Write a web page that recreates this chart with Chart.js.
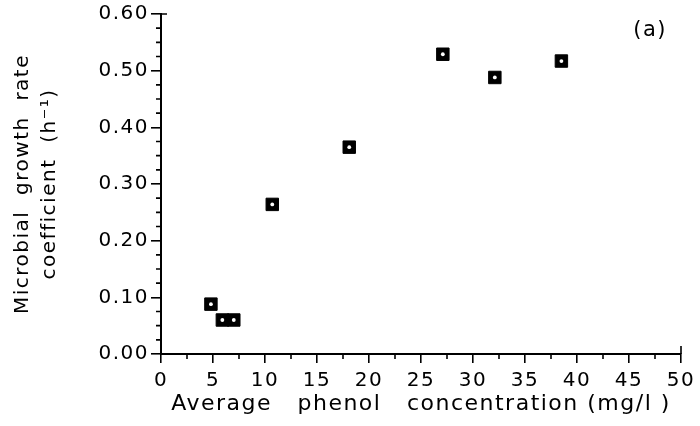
<!DOCTYPE html>
<html>
<head>
<meta charset="utf-8">
<script src="https://cdn.jsdelivr.net/npm/chart.js@4"></script>
<style>
  body { margin: 0; background: #fff; }
  #wrap { width: 700px; height: 426px; }
</style>
</head>
<body>
<div id="wrap"><canvas id="growthChart"></canvas></div>
<script>
// phenol concentration (mg/l) vs growth rate coefficient (1/h)
const phenolConc = [4.8, 5.9, 7.0, 10.7, 18.1, 27.1, 32.1, 38.5];
const growthRate = [0.088, 0.060, 0.060, 0.264, 0.365, 0.529, 0.488, 0.517];

const xTicks = [0, 5, 10, 15, 20, 25, 30, 35, 40, 45, 50];
const yTicks = [0.0, 0.1, 0.2, 0.3, 0.4, 0.5, 0.6];
const xMinorStep = 2.5;
const yMinorStep = 0.025;

const points = phenolConc.map((x, i) => ({ x: x, y: growthRate[i] }));
const FONT = "'DejaVu Sans', sans-serif";
const SPACING = '1.5px';

// the original lettering is wider than any installed font
const spacingPlugin = {
    id: 'spacing',
    beforeLayout(chart) { chart.ctx.letterSpacing = SPACING; },
    beforeDraw(chart) { chart.ctx.letterSpacing = SPACING; }
};

// minor ticks, axis end caps and the panel letter
const extrasPlugin = {
    id: 'extras',
    afterDraw(chart) {
        const ctx = chart.ctx;
        const xs = chart.scales.x, ys = chart.scales.y;
        const area = chart.chartArea;
        ctx.save();
        ctx.strokeStyle = '#000';
        ctx.lineWidth = 1.6;
        ctx.beginPath();
        for (let v = yTicks[0]; v < yTicks[yTicks.length - 1]; v += yMinorStep) {
            if (Math.abs(v / 0.1 - Math.round(v / 0.1)) < 1e-6) continue;
            const py = ys.getPixelForValue(v);
            ctx.moveTo(area.left - 5, py);
            ctx.lineTo(area.left, py);
        }
        for (let v = xTicks[0]; v < xTicks[xTicks.length - 1]; v += xMinorStep) {
            if (v % 5 === 0) continue;
            const px = xs.getPixelForValue(v);
            ctx.moveTo(px, area.bottom);
            ctx.lineTo(px, area.bottom + 5);
        }
        // end caps
        const topY = ys.getPixelForValue(yTicks[yTicks.length - 1]);
        ctx.moveTo(area.left, topY);
        ctx.lineTo(area.left + 6, topY);
        const rightX = xs.getPixelForValue(xTicks[xTicks.length - 1]);
        ctx.moveTo(rightX, area.bottom);
        ctx.lineTo(rightX, area.bottom - 8);
        ctx.stroke();

        ctx.fillStyle = '#000';
        ctx.font = "21px " + FONT;
        ctx.textAlign = 'right';
        ctx.textBaseline = 'middle';
        ctx.fillText('(a)', area.right - 14, area.top + 17);
        ctx.restore();
    }
};

new Chart(document.getElementById('growthChart').getContext('2d'), {
    type: 'scatter',
    data: {
        datasets: [{
            label: 'centre',
            data: points,
            pointStyle: 'circle',
            pointRadius: 1.9,
            pointBackgroundColor: '#fff',
            pointBorderWidth: 0,
            order: 0
        }, {
            label: 'growth rate',
            data: points,
            pointStyle: 'rect',
            pointRadius: 8.8,
            pointBackgroundColor: '#000',
            pointBorderColor: '#000',
            pointBorderWidth: 1,
            order: 1
        }]
    },
    options: {
        responsive: true,
        maintainAspectRatio: false,
        animation: false,
        layout: { padding: { top: 14, right: 19, left: 0, bottom: 0 } },
        plugins: {
            legend: { display: false },
            tooltip: { enabled: false }
        },
        scales: {
            x: {
                type: 'linear',
                min: 0,
                max: 50,
                afterBuildTicks: s => { s.ticks = xTicks.map(v => ({ value: v })); },
                afterFit: s => { s.height = 72; s.paddingRight = 0; s.paddingLeft = 0; },
                border: { color: '#000', width: 2 },
                grid: { drawOnChartArea: false, color: '#000', lineWidth: 1.6, tickLength: 9 },
                ticks: {
                    color: '#000',
                    padding: 6,
                    maxRotation: 0,
                    font: { family: FONT, size: 20 },
                    callback: v => String(v)
                },
                title: {
                    display: true,
                    text: 'Average   phenol   concentration (mg/l )',
                    color: '#000',
                    padding: { top: 0, bottom: 6 },
                    font: { family: FONT, size: 22, lineHeight: 1.4 }
                }
            },
            y: {
                type: 'linear',
                min: 0,
                max: 0.6,
                afterBuildTicks: s => { s.ticks = yTicks.map(v => ({ value: v })); },
                afterFit: s => { s.width = 161; },
                border: { color: '#000', width: 2 },
                grid: { drawOnChartArea: false, color: '#000', lineWidth: 1.6, tickLength: 10 },
                ticks: {
                    color: '#000',
                    padding: 2,
                    font: { family: FONT, size: 20 },
                    callback: v => v.toFixed(2)
                },
                title: {
                    display: true,
                    text: ['Microbial  growth  rate', 'coefficient  (h\u207B\u00B9)'],
                    color: '#000',
                    padding: { top: 9, bottom: 0 },
                    font: { family: FONT, size: 20, lineHeight: 1.35 }
                }
            }
        }
    },
    plugins: [spacingPlugin, extrasPlugin]
});
</script>
</body>
</html>
